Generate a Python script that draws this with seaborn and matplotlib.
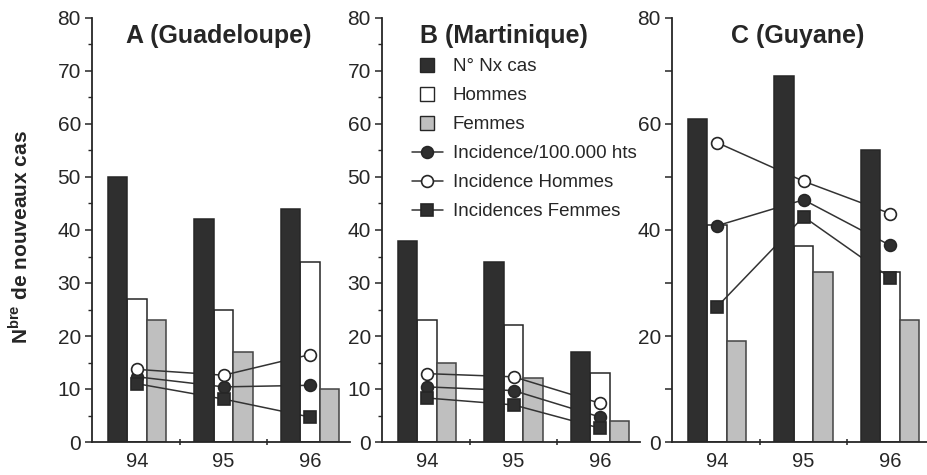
import numpy as np
import pandas as pd
import matplotlib
matplotlib.use("Agg")
import matplotlib.pyplot as plt
import seaborn as sns
from matplotlib.lines import Line2D

# ---------------- data ----------------
years = ["94", "95", "96"]
panel_titles = ["A (Guadeloupe)", "B (Martinique)", "C (Guyane)"]
bar_series = ["N° Nx cas", "Hommes", "Femmes"]
line_series = ["Incidence/100.000 hts", "Incidence Hommes", "Incidences Femmes"]

gua_cas = [50, 42, 44]
gua_hommes = [27, 25, 34]
gua_femmes = [23, 17, 10]
gua_inc = [12.3, 10.4, 10.7]
gua_inc_h = [13.7, 12.6, 16.5]
gua_inc_f = [11.0, 8.1, 4.7]

mar_cas = [38, 34, 17]
mar_hommes = [23, 22, 13]
mar_femmes = [15, 12, 4]
mar_inc = [10.4, 9.7, 4.7]
mar_inc_h = [12.9, 12.3, 7.3]
mar_inc_f = [8.3, 7.0, 2.6]

guy_cas = [61, 69, 55]
guy_hommes = [41, 37, 32]
guy_femmes = [19, 32, 23]
guy_inc = [40.8, 45.7, 37.1]
guy_inc_h = [56.5, 49.2, 43.1]
guy_inc_f = [25.5, 42.5, 31.0]

panels = [
    (gua_cas, gua_hommes, gua_femmes, gua_inc, gua_inc_h, gua_inc_f),
    (mar_cas, mar_hommes, mar_femmes, mar_inc, mar_inc_h, mar_inc_f),
    (guy_cas, guy_hommes, guy_femmes, guy_inc, guy_inc_h, guy_inc_f),
]

# ---------------- style ----------------
sns.set_theme(style="ticks")
plt.rcParams['font.family'] = ['Liberation Sans', 'DejaVu Sans']
plt.rcParams['mathtext.fontset'] = 'custom'
plt.rcParams['mathtext.rm'] = 'Liberation Sans:bold'
plt.rcParams['mathtext.bf'] = 'Liberation Sans:bold'

DARK = "#2f2f2f"
GRAY = "#bfbfbf"
WHITE = "#ffffff"
INK = "#262626"
bar_colors = [DARK, WHITE, GRAY]
line_styles = [
    dict(marker='o', markerfacecolor=DARK),
    dict(marker='o', markerfacecolor=WHITE),
    dict(marker='s', markerfacecolor=DARK),
]

fig = plt.figure(figsize=(9.28, 4.75), dpi=100)
lefts = [92 / 928, 382 / 928, 672 / 928]
bottom = (475 - 442) / 475
height = 424 / 475
width = 258 / 928

xpos = np.arange(len(years))

for i, (data, title) in enumerate(zip(panels, panel_titles)):
    ax = fig.add_axes([lefts[i], bottom, width, height])
    df = pd.DataFrame({
        "year": np.tile(years, 3),
        "serie": np.repeat(bar_series, len(years)),
        "value": np.concatenate([data[0], data[1], data[2]]),
    })
    sns.barplot(data=df, x="year", y="value", hue="serie", hue_order=bar_series,
                order=years, palette=bar_colors, saturation=1, width=0.675,
                gap=0, edgecolor=INK, linewidth=1.1, legend=False, ax=ax)
    for k, cont in enumerate(ax.containers):
        for p in cont:
            p.set_zorder(2.5 if k == 0 else 1)
            if k == 2:
                p.set_edgecolor("#444444")

    for vals, st in zip(data[3:], line_styles):
        sns.lineplot(x=xpos, y=vals, ax=ax, color="#333333", linewidth=1.1,
                     markersize=8.5 if st['marker'] == 'o' else 9,
                     markeredgecolor=INK, markeredgewidth=1.2, zorder=2,
                     legend=False, **st)

    ax.set_xlim(-0.52, 2.46)
    ax.set_ylim(0, 80)
    ax.set_xlabel("")
    ax.set_ylabel("")
    ax.set_xticks(xpos)
    ax.set_xticklabels(years)
    ax.set_xticks([0.5, 1.5], minor=True)
    ax.tick_params(axis='x', which='major', length=0, pad=7.5, labelsize=14.5,
                   labelcolor=INK)
    ax.tick_params(axis='x', which='minor', length=4, direction='inout',
                   width=1.1, color=INK)
    if i < 2:
        ax.set_yticks(np.arange(0, 81, 10))
        ax.set_yticks(np.arange(5, 80, 10), minor=True)
        ax.tick_params(axis='y', which='minor', length=3, width=1.0, color=INK)
    else:
        ax.set_yticks(np.arange(0, 81, 20))
        ax.set_yticks(np.arange(10, 80, 20), minor=True)
        ax.tick_params(axis='y', which='minor', length=5, width=1.1, color=INK)
    ax.tick_params(axis='y', which='major', length=5, width=1.1, pad=3,
                   labelsize=15, labelcolor=INK, color=INK)
    sns.despine(ax=ax)
    for s in ["left", "bottom"]:
        ax.spines[s].set_color(INK)
        ax.spines[s].set_linewidth(1.3)

    tx = [0.49, 0.473, 0.488][i]
    ax.text(tx, 0.958, title, transform=ax.transAxes, ha='center', va='center',
            fontsize=18, fontweight='bold', color=INK)

    if i == 1:
        handles = []
        for c in bar_colors:
            handles.append(Line2D([], [], linestyle='none', marker='s',
                                  markersize=10, markerfacecolor=c,
                                  markeredgecolor=INK, markeredgewidth=1.0))
        for st in line_styles:
            handles.append(Line2D([], [], color="#333333", linewidth=1.1,
                                  markersize=8.5, markeredgecolor=INK,
                                  markeredgewidth=1.2, **st))
        leg = ax.legend(handles, bar_series + line_series, loc='upper left',
                        bbox_to_anchor=(0.116, 0.905), frameon=False,
                        fontsize=13.5, handlelength=1.65, handletextpad=0.53,
                        labelspacing=0.63, borderaxespad=0, borderpad=0)
        for t in leg.get_texts():
            t.set_color(INK)

fig.text(20 / 928, (475 - 237) / 475, r"N$^{\mathbf{bre}}$ de nouveaux cas",
         rotation=90, ha='center', va='center', fontsize=15, fontweight='bold',
         color=INK)

fig.savefig("out.png", dpi=100)
